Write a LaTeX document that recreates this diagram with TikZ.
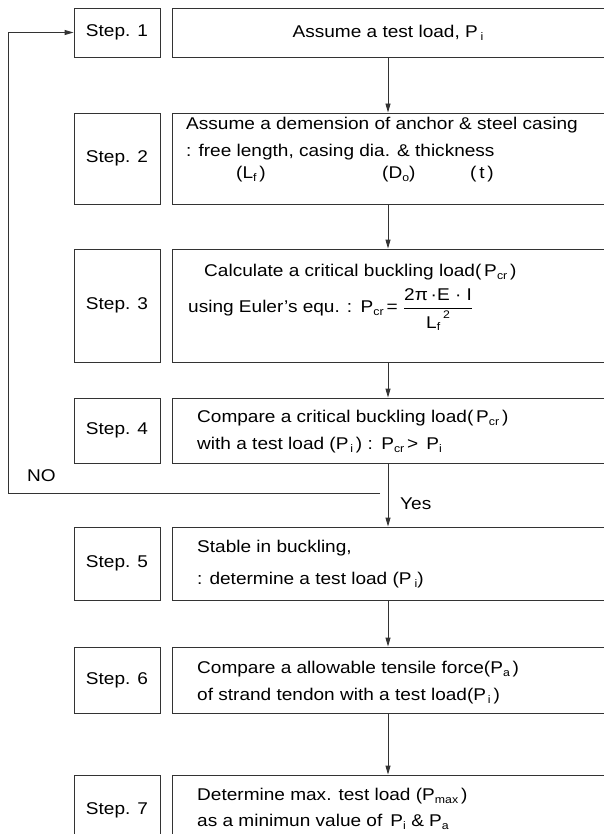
\documentclass[tikz,border=0pt]{standalone}
\usepackage{fontspec}
\usepackage{amsmath}
\setmainfont{Liberation Sans}[FakeStretch=1.12]
\usetikzlibrary{arrows.meta}
\newcommand{\sbs}[1]{\raisebox{-0.3ex}{\fontsize{11}{11}\selectfont #1}}
\begin{document}
\begin{tikzpicture}[x=1pt,y=-1pt,
  lin/.style={line width=0.9pt,draw=black!80},
  arr/.style={lin,-{Triangle[length=9pt,width=5pt]}},
  stepbox/.style={lin,rectangle,minimum width=86pt,inner sep=0pt,font=\fontsize{17}{20}\selectfont},
  mainbox/.style={lin,rectangle,minimum width=432pt,inner sep=0pt},
  txt/.style={anchor=west,inner sep=0pt,font=\fontsize{17}{20}\selectfont}]
\useasboundingbox (0,0) rectangle (603,834);
% step boxes
\node[stepbox,minimum height=49pt] (s1) at (117,32.5) {Step. 1};
\node[mainbox,minimum height=49pt] (m1) at (388,32.5) {};
\node[stepbox,minimum height=91pt] (s2) at (117,158.5) {Step. 2};
\node[mainbox,minimum height=91pt] (m2) at (388,158.5) {};
\node[stepbox,minimum height=113pt] (s3) at (117,305.5) {Step. 3};
\node[mainbox,minimum height=113pt] (m3) at (388,305.5) {};
\node[stepbox,minimum height=65pt] (s4) at (117,430.5) {Step. 4};
\node[mainbox,minimum height=65pt] (m4) at (388,430.5) {};
\node[stepbox,minimum height=73pt] (s5) at (117,563.5) {Step. 5};
\node[mainbox,minimum height=73pt] (m5) at (388,563.5) {};
\node[stepbox,minimum height=66pt] (s6) at (117,680) {Step. 6};
\node[mainbox,minimum height=66pt] (m6) at (388,680) {};
\node[stepbox,minimum height=70pt] (s7) at (117,810) {Step. 7};
\node[mainbox,minimum height=70pt] (m7) at (388,810) {};
% texts
\node[txt,anchor=center] (t1) at (388,32.5) {Assume a test load, P\,\sbs{i}};
\node[txt] (t2a) at (186,125) {Assume a demension of anchor \& steel casing};
\node[txt] (t2b) at (186,152) {: free length, casing dia. \& thickness};
\node[txt] (t2c) at (236,174) {(L\sbs{f}\,)};
\node[txt] (t2d) at (382,174) {(D\sbs{o})};
\node[txt] (t2e) at (470,174) {(\,t\,)};
\node[txt] (t3a) at (204,272) {Calculate a critical buckling load(\,P\sbs{cr}\,)};
\node[txt] (t3b) at (188,310) {using Euler's equ. :\enspace P\sbs{cr}\,= $\dfrac{\mbox{2π\,·E · I}}{\mbox{L\sbs{f}\,\raisebox{1.1ex}{\fontsize{11}{11}\selectfont 2}}}$};
\node[txt] (t4a) at (197,418) {Compare a critical buckling load(\,P\sbs{cr}\,)};
\node[txt] (t4b) at (197,445) {with a test load (P\sbs{\,i}\,) :\enspace P\sbs{cr}\,>\, P\sbs{i}};
\node[txt] (t5a) at (197,548) {Stable in buckling,};
\node[txt] (t5b) at (197,580) {: determine a test load (P\,\sbs{i})};
\node[txt] (t6a) at (197,669) {Compare a allowable tensile force(P\sbs{a}\,)};
\node[txt] (t6b) at (197,696) {of strand tendon with a test load(P\sbs{\,i}\,)};
\node[txt] (t7a) at (197,796) {Determine max. test load (P\sbs{max}\,)};
\node[txt] (t7b) at (197,822) {as a minimun value of\, P\sbs{i} \& P\sbs{a}};
% labels
\node[txt] (no) at (27,476) {NO};
\node[txt] (yes) at (400,504) {Yes};
% connectors
\draw[arr] (m1.south) -- (m2.north);
\draw[arr] (m2.south) -- (m3.north);
\draw[arr] (m3.south) -- (m4.north);
\draw[arr] (m4.south) -- (m5.north);
\draw[arr] (m5.south) -- (m6.north);
\draw[arr] (m6.south) -- (m7.north);
\coordinate (nostart) at (380,493);
\coordinate (fbc) at (8,493);
\draw[arr] (nostart) -- (fbc) |- (s1.west);
\end{tikzpicture}
\end{document}
